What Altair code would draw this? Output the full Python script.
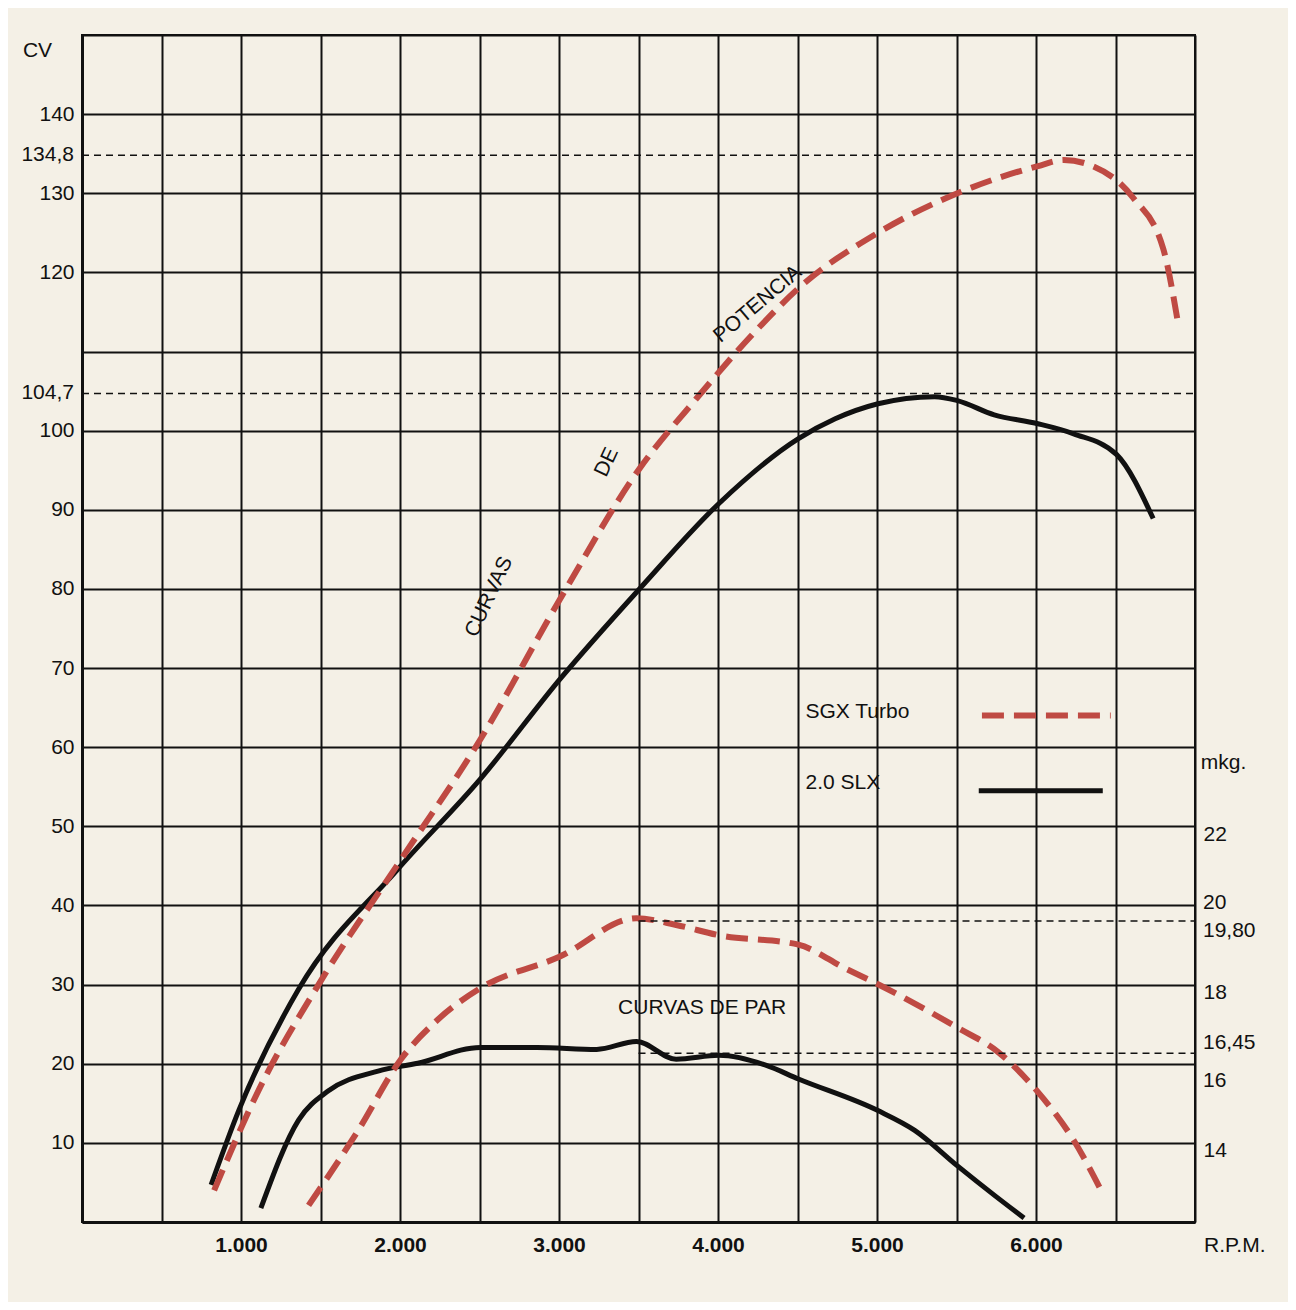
import altair as alt
import pandas as pd

# Potencia (CV)
slx_pow_rpm = [812, 988, 1362, 1987, 2506, 3006, 3506, 4006, 4506, 4737, 5006, 5362, 5506, 5737, 6006, 6237, 6506, 6737]
slx_pow_cv = [4.7, 14.2, 29.4, 44.6, 56, 68.6, 80, 90.8, 99, 101.5, 103.4, 104.3, 103.8, 102, 100.9, 99.6, 97, 88.9]
turbo_pow_rpm = [831, 1112, 1506, 2006, 2506, 3006, 3506, 3862, 4256, 4506, 5006, 5506, 6006, 6175, 6362, 6612, 6800, 6894]
turbo_pow_cv = [4, 16.7, 30.6, 45.8, 61, 78.7, 95.2, 104, 113, 118, 125, 130, 133.4, 134.2, 133.4, 129.4, 123, 113.5]

# Par (mkg)
slx_par_rpm = [1125, 1362, 1550, 1862, 2112, 2506, 2862, 3237, 3487, 3737, 4006, 4300, 4506, 5006, 5237, 5506, 5737, 5925]
slx_par_mkg = [12.53, 14.76, 15.5, 16.0, 16.2, 16.6, 16.6, 16.55, 16.75, 16.3, 16.4, 16.15, 15.8, 15.0, 14.5, 13.6, 12.86, 12.28]
turbo_par_rpm = [1425, 1737, 2006, 2237, 2506, 3006, 3487, 3737, 4006, 4506, 4800, 5006, 5506, 5756, 6006, 6237, 6425]
turbo_par_mkg = [12.6, 14.5, 16.3, 17.3, 18.1, 18.9, 19.87, 19.7, 19.44, 19.2, 18.6, 18.2, 17.1, 16.5, 15.5, 14.25, 12.86]

cv_marks = [104.7, 134.8]
cv_mark_labels = ["104,7", "134,8"]
mkg_ticks = [14, 18, 22]
mkg_up = [20, 16.45]
mkg_up_labels = ["20", "16,45"]
mkg_down = [19.8, 16]
mkg_down_labels = ["19,80", "16"]

RED = "#bf4a43"
FONT = "Liberation Sans"
W, H = 1113, 1187

xs = alt.Scale(domain=[0, 7000], nice=False)
ys = alt.Scale(domain=[0, 150], nice=False)
ms = alt.Scale(domain=[12.18, 42.23], nice=False)

x_axis = alt.Axis(
    values=list(range(0, 7001, 500)), grid=True, gridColor="#111", gridWidth=2,
    domainColor="#111", domainWidth=3, ticks=False, title=None,
    labelExpr="datum.value % 1000 == 0 && datum.value >= 1000 && datum.value <= 6000 ? replace(format(datum.value, ','), ',', '.') : ''",
    labelFont=FONT, labelFontSize=21, labelColor="#111", labelPadding=12, labelFontWeight="bold")
y_axis = alt.Axis(
    values=list(range(0, 151, 10)), grid=True, gridColor="#111", gridWidth=2,
    domainColor="#111", domainWidth=3, ticks=False, title=None,
    labelExpr="datum.value > 0 && datum.value <= 140 && datum.value != 110 ? datum.value : ''",
    labelFont=FONT, labelFontSize=21, labelColor="#111", labelPadding=8)

def line_df(r, v):
    return pd.DataFrame({"rpm": r, "v": v})

slx_pow = alt.Chart(line_df(slx_pow_rpm, slx_pow_cv)).mark_line(
    color="#111", strokeWidth=5, interpolate="monotone").encode(
    x=alt.X("rpm:Q", scale=xs, axis=x_axis), y=alt.Y("v:Q", scale=ys, axis=y_axis))
turbo_pow = alt.Chart(line_df(turbo_pow_rpm, turbo_pow_cv)).mark_line(
    color=RED, strokeWidth=6, strokeDash=[22, 10], interpolate="monotone").encode(
    x=alt.X("rpm:Q", scale=xs), y=alt.Y("v:Q", scale=ys))

cv_df = pd.DataFrame({"v": cv_marks, "lab": cv_mark_labels, "x0": [0, 0], "x1": [7000, 7000]})
cv_rules = alt.Chart(cv_df).mark_rule(color="#111", strokeWidth=1.5, strokeDash=[7, 5]).encode(
    x=alt.X("x0:Q", scale=xs), x2="x1", y=alt.Y("v:Q", scale=ys))
cv_labels = alt.Chart(cv_df).mark_text(
    align="right", dx=-8, font=FONT, fontSize=21, color="#111").encode(
    x=alt.X("x0:Q", scale=xs), y=alt.Y("v:Q", scale=ys), text="lab:N")

notes = pd.DataFrame({
    "rpm": [2560, 3300, 4250, 3900],
    "v": [79, 96, 116, 27],
    "t": ["CURVAS", "DE", "POTENCIA", "CURVAS DE PAR"],
    "ang": [295, 295, 320, 0],
})
note_marks = alt.Chart(notes).mark_text(font=FONT, fontSize=21, color="#111").encode(
    x=alt.X("rpm:Q", scale=xs), y=alt.Y("v:Q", scale=ys), text="t:N", angle=alt.Angle("ang:Q", scale=None))

top_texts = pd.DataFrame({"rpm": [-280, 7180, 7250], "v": [148, 58, -3], "t": ["CV", "mkg.", "R.P.M."]})
top_marks = alt.Chart(top_texts).mark_text(font=FONT, fontSize=21, color="#111", baseline="middle").encode(
    x=alt.X("rpm:Q", scale=xs), y=alt.Y("v:Q", scale=ys), text="t:N")

leg_txt = pd.DataFrame({"rpm": [4550, 4550], "v": [64.5, 55.5], "t": ["SGX Turbo", "2.0 SLX"]})
leg_marks = alt.Chart(leg_txt).mark_text(font=FONT, fontSize=21, color="#111", align="left").encode(
    x=alt.X("rpm:Q", scale=xs), y=alt.Y("v:Q", scale=ys), text="t:N")
leg_red = alt.Chart(pd.DataFrame({"a": [5660], "b": [6470], "v": [64]})).mark_rule(
    color=RED, strokeWidth=6, strokeDash=[22, 10]).encode(
    x=alt.X("a:Q", scale=xs), x2="b", y=alt.Y("v:Q", scale=ys))
leg_blk = alt.Chart(pd.DataFrame({"a": [5640], "b": [6420], "v": [54.5]})).mark_rule(
    color="#111", strokeWidth=5).encode(
    x=alt.X("a:Q", scale=xs), x2="b", y=alt.Y("v:Q", scale=ys))

left = alt.layer(slx_pow, turbo_pow, cv_rules, cv_labels, note_marks, top_marks, leg_marks, leg_red, leg_blk)

m_axis = alt.Axis(
    orient="right", values=mkg_ticks, grid=False, ticks=False, domain=False, title=None,
    labelFont=FONT, labelFontSize=21, labelColor="#111", labelPadding=8)
slx_par = alt.Chart(line_df(slx_par_rpm, slx_par_mkg)).mark_line(
    color="#111", strokeWidth=5, interpolate="monotone").encode(
    x=alt.X("rpm:Q", scale=xs), y=alt.Y("v:Q", scale=ms, axis=m_axis))
turbo_par = alt.Chart(line_df(turbo_par_rpm, turbo_par_mkg)).mark_line(
    color=RED, strokeWidth=6, strokeDash=[22, 10], interpolate="monotone").encode(
    x=alt.X("rpm:Q", scale=xs), y=alt.Y("v:Q", scale=ms))
m_rules = alt.Chart(pd.DataFrame({"v": [19.8, 16.45], "a": [3500, 3500], "b": [7000, 7000]})).mark_rule(
    color="#111", strokeWidth=1.5, strokeDash=[7, 5]).encode(
    x=alt.X("a:Q", scale=xs), x2="b", y=alt.Y("v:Q", scale=ms))

def side_labels(vals, labs, dy):
    df = pd.DataFrame({"v": vals, "t": labs, "x": [7000] * len(vals)})
    return alt.Chart(df).mark_text(
        align="left", dx=8, dy=dy, font=FONT, fontSize=21, color="#111").encode(
        x=alt.X("x:Q", scale=xs), y=alt.Y("v:Q", scale=ms), text="t:N")

right = alt.layer(slx_par, turbo_par, m_rules,
                  side_labels(mkg_up, mkg_up_labels, -10),
                  side_labels(mkg_down, mkg_down_labels, 10))

chart = alt.layer(left, right).resolve_scale(y="independent").properties(
    width=W, height=H, background="#f4f0e6",
    autosize=alt.AutoSizeParams(type="none"),
    padding={"left": 74, "top": 27, "right": 93, "bottom": 80},
).configure_view(stroke="#111", strokeWidth=2)

chart.save("out.html", embed_options={"renderer": "svg", "actions": False})
